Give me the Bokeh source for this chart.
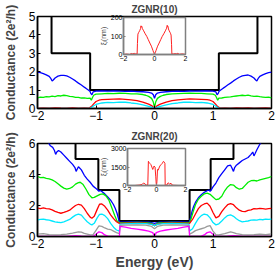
from bokeh.plotting import figure
from bokeh.models import FixedTicker
from bokeh.embed import file_html
from bokeh.resources import INLINE

# ---------------- ZGNR(10) ----------------
black10_E = [-2.0, -1.76, -1.76, -1.1, -1.1, 1.1, 1.1, 1.76, 1.76, 2.0]
black10_G = [7, 7, 3, 3, 1, 1, 3, 3, 7, 7]

blue10_E = [-2.0, -1.95, -1.9, -1.85, -1.8, -1.77, -1.75, -1.73, -1.7, -1.65, -1.6, -1.55, -1.5, -1.45,
            -1.4, -1.35, -1.3, -1.25, -1.2, -1.15, -1.12, -1.1, -1.09, -1.07, -1.05, -1.0, -0.9, -0.8,
            -0.7, -0.6, -0.5, -0.4, -0.3, -0.2, -0.1, -0.05, -0.02, 0.0, 0.02, 0.05, 0.1, 0.2, 0.3, 0.4,
            0.5, 0.6, 0.7, 0.8, 0.9, 1.0, 1.05, 1.07, 1.09, 1.1, 1.12, 1.15, 1.2, 1.25, 1.3, 1.35, 1.4,
            1.45, 1.5, 1.55, 1.6, 1.65, 1.7, 1.73, 1.75, 1.77, 1.8, 1.85, 1.9, 1.95, 2.0]
blue10_G = [1.98, 1.95, 1.9, 1.83, 1.75, 1.62, 1.5, 1.55, 1.66, 1.76, 1.8, 1.8, 1.77, 1.7,
            1.6, 1.5, 1.38, 1.28, 1.16, 1.05, 0.98, 0.92, 0.82, 0.75, 0.9, 0.94, 0.95, 0.94,
            0.95, 0.94, 0.93, 0.94, 0.92, 0.91, 0.88, 0.84, 0.75, 0.55, 0.75, 0.84, 0.88, 0.91, 0.93, 0.94,
            0.93, 0.95, 0.94, 0.95, 0.95, 0.94, 0.9, 0.75, 0.82, 0.92, 0.98, 1.05, 1.16, 1.28, 1.38, 1.5, 1.6,
            1.7, 1.77, 1.8, 1.82, 1.76, 1.66, 1.55, 1.5, 1.62, 1.75, 1.83, 1.9, 1.95, 1.98]

green10_E = [-2.0, -1.95, -1.9, -1.85, -1.8, -1.75, -1.7, -1.65, -1.6, -1.55, -1.5, -1.45, -1.4, -1.35,
             -1.3, -1.25, -1.2, -1.15, -1.1, -1.08, -1.06, -1.04, -1.0, -0.9, -0.8, -0.7, -0.6, -0.5,
             -0.4, -0.3, -0.2, -0.15, -0.1, -0.05, -0.02, 0.0, 0.02, 0.05, 0.1, 0.15, 0.2, 0.3, 0.4,
             0.5, 0.6, 0.7, 0.8, 0.9, 1.0, 1.04, 1.06, 1.08, 1.1, 1.15, 1.2, 1.25, 1.3, 1.35, 1.4,
             1.45, 1.5, 1.55, 1.6, 1.65, 1.7, 1.75, 1.8, 1.85, 1.9, 1.95, 2.0]
green10_G = [0.58, 0.62, 0.6, 0.64, 0.63, 0.67, 0.65, 0.7, 0.68, 0.72, 0.7, 0.66, 0.64, 0.6,
             0.61, 0.57, 0.58, 0.55, 0.56, 0.45, 0.6, 0.72, 0.78, 0.8, 0.82, 0.81, 0.83, 0.82,
             0.8, 0.79, 0.76, 0.72, 0.66, 0.55, 0.35, 0.05, 0.35, 0.55, 0.66, 0.72, 0.76, 0.8, 0.81,
             0.82, 0.83, 0.82, 0.82, 0.8, 0.78, 0.72, 0.6, 0.45, 0.56, 0.57, 0.6, 0.62, 0.63, 0.66, 0.68,
             0.7, 0.72, 0.7, 0.73, 0.69, 0.66, 0.67, 0.64, 0.62, 0.6, 0.62, 0.58]

red10_E = [-2.0, -1.9, -1.8, -1.7, -1.6, -1.5, -1.4, -1.3, -1.2, -1.12, -1.08, -1.04, -1.0, -0.95,
           -0.9, -0.8, -0.7, -0.6, -0.5, -0.4, -0.3, -0.2, -0.1, -0.05, 0.0, 0.05, 0.1, 0.2, 0.3,
           0.4, 0.5, 0.6, 0.7, 0.8, 0.9, 0.95, 1.0, 1.04, 1.08, 1.12, 1.2, 1.3, 1.4, 1.5, 1.6, 1.7,
           1.8, 1.9, 2.0]
red10_G = [0.02, 0.03, 0.02, 0.05, 0.03, 0.02, 0.04, 0.02, 0.03, 0.02, 0.1, 0.25, 0.38, 0.45,
           0.48, 0.5, 0.51, 0.52, 0.5, 0.47, 0.43, 0.35, 0.24, 0.16, 0.0, 0.16, 0.24, 0.35, 0.43,
           0.47, 0.5, 0.52, 0.51, 0.5, 0.48, 0.45, 0.38, 0.25, 0.1, 0.02, 0.03, 0.02, 0.04, 0.03, 0.05, 0.02,
           0.03, 0.04, 0.02]

cyan10_E = [-2.0, -1.5, -1.12, -1.08, -1.04, -1.0, -0.95, -0.9, -0.8, -0.7, -0.6, -0.5, -0.4, -0.3,
            -0.2, -0.1, -0.05, 0.0, 0.05, 0.1, 0.2, 0.3, 0.4, 0.5, 0.6, 0.7, 0.8, 0.9, 0.95, 1.0,
            1.04, 1.08, 1.12, 1.5, 2.0]
cyan10_G = [0.0, 0.01, 0.0, 0.05, 0.15, 0.22, 0.27, 0.3, 0.33, 0.32, 0.35, 0.34, 0.3, 0.27,
            0.2, 0.12, 0.07, 0.0, 0.07, 0.12, 0.2, 0.27, 0.3, 0.34, 0.35, 0.32, 0.33, 0.3, 0.27, 0.22,
            0.15, 0.05, 0.0, 0.01, 0.0]

# inset of ZGNR(10): localization length
xi10_E = [-2.0, -1.8, -1.6, -1.5, -1.4, -1.3, -1.2, -1.12, -1.1, -1.07, -1.03, -1.0, -0.95, -0.9,
          -0.87, -0.85, -0.82, -0.78, -0.7, -0.6, -0.5, -0.4, -0.3, -0.2, -0.1, -0.05, 0.0, 0.05,
          0.1, 0.2, 0.3, 0.4, 0.5, 0.6, 0.7, 0.78, 0.82, 0.85, 0.87, 0.9, 0.95, 1.0, 1.03, 1.07,
          1.1, 1.12, 1.2, 1.3, 1.4, 1.5, 1.6, 1.8, 2.0]
xi10_L = [0, 2, 0, 5, 3, 6, 2, 3, 60, 110, 118, 122, 130, 140,
          155, 148, 152, 140, 128, 112, 98, 80, 62, 45, 22, 10, 0, 10,
          22, 45, 62, 80, 98, 112, 128, 142, 158, 150, 152, 138, 128, 120, 115, 105,
          55, 3, 2, 5, 3, 6, 1, 3, 0]

# ---------------- ZGNR(20) ----------------
black20_E = [-2.0, -1.35, -1.35, -0.96, -0.96, -0.6, -0.6, 0.6, 0.6, 0.96, 0.96, 1.35, 1.35, 2.0]
black20_G = [7, 7, 5, 5, 3, 3, 1, 1, 3, 3, 5, 5, 7, 7]

blue20_E = [-1.82, -1.78, -1.74, -1.71, -1.69, -1.67, -1.64, -1.6, -1.55, -1.5, -1.45, -1.4, -1.36,
            -1.34, -1.32, -1.3, -1.25, -1.2, -1.15, -1.1, -1.05, -1.0, -0.97, -0.95, -0.93, -0.9,
            -0.85, -0.8, -0.75, -0.7, -0.67, -0.64, -0.62, -0.6, -0.55, -0.4, -0.2, -0.1, -0.05, 0.0,
            0.05, 0.1, 0.2, 0.4, 0.55, 0.6, 0.62, 0.64, 0.67, 0.7, 0.75, 0.8, 0.85, 0.9, 0.93, 0.95,
            0.97, 1.0, 1.05, 1.1, 1.15, 1.2, 1.25, 1.3, 1.32, 1.35, 1.37, 1.4, 1.45, 1.5, 1.55, 1.6,
            1.65, 1.68, 1.7, 1.72, 1.75, 1.8, 1.83]
blue20_G = [6.1, 5.85, 5.75, 5.55, 5.3, 5.45, 5.55, 5.45, 5.25, 5.05, 4.85, 4.65, 4.45,
            4.2, 4.35, 4.5, 4.3, 3.95, 3.7, 3.5, 3.25, 3.1, 3.0, 2.92, 2.97, 2.9,
            2.75, 2.55, 2.35, 2.05, 1.8, 1.5, 1.2, 0.95, 0.93, 0.94, 0.93, 0.92, 0.9, 0.85,
            0.9, 0.92, 0.93, 0.94, 0.93, 0.95, 1.25, 1.6, 1.95, 2.2, 2.5, 2.7, 2.85, 2.95, 3.0, 2.92,
            3.0, 3.2, 3.45, 3.8, 4.05, 4.3, 4.55, 4.6, 4.45, 4.2, 4.45, 4.6, 4.75, 4.9, 5.0, 5.1,
            5.3, 5.45, 5.2, 5.35, 5.6, 5.95, 6.1]

green20_E = [-2.0, -1.95, -1.9, -1.85, -1.8, -1.75, -1.7, -1.65, -1.6, -1.55, -1.5, -1.45, -1.4, -1.35,
             -1.3, -1.27, -1.22, -1.17, -1.12, -1.07, -1.03, -0.98, -0.93, -0.88, -0.83, -0.78, -0.73,
             -0.68, -0.64, -0.6, -0.5, -0.3, -0.15, -0.05, -0.02, 0.0, 0.02, 0.05, 0.15, 0.3, 0.5, 0.6,
             0.63, 0.66, 0.7, 0.75, 0.8, 0.85, 0.9, 0.95, 1.0, 1.05, 1.1, 1.15, 1.2, 1.25, 1.3, 1.35,
             1.4, 1.45, 1.5, 1.55, 1.6, 1.65, 1.7, 1.75, 1.8, 1.85, 1.9, 1.95, 2.0]
green20_G = [3.87, 3.8, 3.82, 3.75, 3.72, 3.65, 3.55, 3.4, 3.25, 3.12, 3.05, 3.1, 3.2, 3.38,
             3.48, 3.5, 3.35, 3.05, 2.7, 2.5, 2.52, 2.62, 2.72, 2.75, 2.62, 2.35, 1.85,
             1.35, 1.0, 0.88, 0.9, 0.91, 0.9, 0.85, 0.75, 0.7, 0.75, 0.86, 0.9, 0.91, 0.9, 0.9,
             1.2, 1.6, 2.05, 2.4, 2.6, 2.75, 2.8, 2.72, 2.55, 2.38, 2.42, 2.6, 2.95, 3.2, 3.35, 3.32,
             3.15, 3.05, 3.1, 3.3, 3.5, 3.6, 3.62, 3.58, 3.65, 3.7, 3.75, 3.8, 3.87]

red20_E = [-2.0, -1.95, -1.9, -1.85, -1.8, -1.75, -1.7, -1.65, -1.6, -1.55, -1.5, -1.45, -1.4, -1.35,
           -1.3, -1.25, -1.2, -1.15, -1.1, -1.07, -1.03, -0.98, -0.94, -0.9, -0.85, -0.8, -0.75,
           -0.7, -0.65, -0.6, -0.5, -0.3, -0.15, -0.05, 0.0, 0.05, 0.15, 0.3, 0.5, 0.6, 0.65, 0.7,
           0.75, 0.8, 0.85, 0.9, 0.95, 1.0, 1.05, 1.1, 1.15, 1.2, 1.25, 1.3, 1.35, 1.4, 1.45, 1.5,
           1.55, 1.6, 1.65, 1.7, 1.75, 1.8, 1.85, 1.9, 1.95, 2.0]
red20_G = [1.83, 1.8, 1.85, 1.8, 1.78, 1.72, 1.62, 1.55, 1.5, 1.55, 1.62, 1.7, 1.85, 2.0,
           2.08, 2.02, 1.8, 1.5, 1.25, 1.18, 1.3, 1.75, 2.08, 2.1, 1.95, 1.7, 1.4,
           1.15, 0.95, 0.85, 0.86, 0.87, 0.86, 0.8, 0.7, 0.8, 0.86, 0.87, 0.86, 0.85, 1.1, 1.45,
           1.8, 2.0, 2.1, 2.15, 1.95, 1.55, 1.2, 1.3, 1.6, 1.85, 2.05, 2.12, 2.05, 1.85, 1.7, 1.62,
           1.6, 1.68, 1.72, 1.8, 1.78, 1.82, 1.8, 1.77, 1.8, 1.82]

cyan20_E = [-2.0, -1.95, -1.9, -1.85, -1.8, -1.75, -1.7, -1.65, -1.6, -1.55, -1.5, -1.45, -1.4, -1.35,
            -1.3, -1.25, -1.2, -1.15, -1.1, -1.07, -1.03, -0.98, -0.94, -0.9, -0.85, -0.8, -0.75,
            -0.7, -0.65, -0.6, -0.59, -0.5, -0.3, -0.15, -0.05, 0.0, 0.05, 0.15, 0.3, 0.5, 0.59, 0.6,
            0.65, 0.7, 0.75, 0.8, 0.85, 0.9, 0.95, 1.0, 1.05, 1.1, 1.15, 1.2, 1.25, 1.3, 1.35, 1.4,
            1.45, 1.5, 1.55, 1.6, 1.65, 1.7, 1.75, 1.8, 1.85, 1.9, 1.95, 2.0]
cyan20_G = [1.07, 1.1, 1.12, 1.08, 1.05, 1.0, 0.95, 0.92, 0.9, 0.95, 1.02, 1.1, 1.25, 1.38,
            1.45, 1.38, 1.15, 0.95, 0.8, 0.75, 0.85, 1.2, 1.42, 1.45, 1.35, 1.15, 0.85,
            0.6, 0.42, 0.35, 0.8, 0.82, 0.84, 0.83, 0.78, 0.7, 0.78, 0.83, 0.84, 0.82, 0.8, 0.35,
            0.5, 0.85, 1.15, 1.35, 1.45, 1.4, 1.2, 0.9, 0.75, 0.82, 1.0, 1.2, 1.35, 1.4, 1.3, 1.15,
            1.02, 0.95, 0.97, 1.0, 1.05, 1.07, 1.05, 1.1, 1.08, 1.12, 1.1, 1.12]

gray20_E = [-2.0, -1.9, -1.8, -1.7, -1.6, -1.5, -1.4, -1.3, -1.25, -1.2, -1.1, -1.05, -1.0, -0.95,
            -0.9, -0.85, -0.8, -0.75, -0.7, -0.65, -0.6, -0.59, -0.5, -0.3, -0.15, -0.05, 0.0, 0.05,
            0.15, 0.3, 0.5, 0.59, 0.6, 0.65, 0.7, 0.75, 0.8, 0.85, 0.9, 0.95, 1.0, 1.05, 1.1, 1.2,
            1.3, 1.35, 1.4, 1.5, 1.6, 1.7, 1.8, 1.9, 2.0]
gray20_G = [0.15, 0.18, 0.12, 0.1, 0.12, 0.15, 0.22, 0.3, 0.28, 0.2, 0.1, 0.12, 0.4, 0.68,
            0.65, 0.55, 0.48, 0.45, 0.35, 0.25, 0.18, 0.72, 0.74, 0.75, 0.74, 0.65, 0.5, 0.65,
            0.74, 0.75, 0.74, 0.72, 0.15, 0.25, 0.38, 0.45, 0.5, 0.55, 0.65, 0.7, 0.35, 0.12, 0.1, 0.18,
            0.3, 0.25, 0.18, 0.12, 0.1, 0.12, 0.15, 0.12, 0.16]

magenta20_E = [-2.0, -1.5, -1.35, -1.25, -1.05, -1.0, -0.95, -0.9, -0.85, -0.8, -0.6, -0.59, -0.5,
               -0.4, -0.3, -0.2, -0.1, -0.03, 0.0, 0.03, 0.1, 0.2, 0.3, 0.4, 0.5, 0.59, 0.6, 0.8,
               0.85, 0.9, 0.95, 1.0, 1.05, 1.25, 1.35, 1.5, 2.0]
magenta20_G = [0.0, 0.01, 0.05, 0.02, 0.0, 0.15, 0.3, 0.25, 0.1, 0.02, 0.0, 0.65, 0.6,
               0.52, 0.47, 0.42, 0.35, 0.25, 0.0, 0.25, 0.35, 0.42, 0.47, 0.52, 0.6, 0.65, 0.0, 0.02,
               0.1, 0.25, 0.3, 0.15, 0.0, 0.02, 0.05, 0.01, 0.0]

# inset of ZGNR(20)
xi20_E = [-2.0, -1.5, -1.2, -1.0, -0.9, -0.8, -0.7, -0.6, -0.56, -0.5, -0.45, -0.39, -0.32, -0.26,
          -0.21, -0.17, -0.1, -0.05, -0.02, 0.0, 0.03, 0.07, 0.12, 0.2, 0.27, 0.33, 0.4, 0.48,
          0.53, 0.58, 0.6, 0.7, 0.8, 0.9, 1.0, 1.1, 1.5, 2.0]
xi20_L = [0, 0, 30, 80, 200, 150, 20, 60, 1960, 1850, 1780, 1700, 1500, 1300,
          1450, 1580, 1500, 700, 150, 0, 300, 1300, 1250, 1500, 1650, 1700, 1800, 1960,
          1900, 1800, 0, 30, 220, 120, 180, 20, 0, 0]

COLORS = {"black": "#000000", "blue": "#0000ff", "green": "#00ee00", "red": "#ff0000",
          "cyan": "#00e8ff", "gray": "#9a9a9a", "magenta": "#ff00ff"}

FONT = "Liberation Sans"


def main_fig(height, ymax, yticks, title, xlabel, top, bottom, pos_top):
    p = figure(width=278, height=height, x_range=(-2, 2), y_range=(0, ymax),
               toolbar_location=None, output_backend="svg",
               min_border_left=35, min_border_right=7, min_border_top=top,
               min_border_bottom=bottom)
    p.styles = {"position": "absolute", "left": "0px", "top": f"{pos_top}px", "z-index": "1"}
    p.title.text = title
    p.title.align = "center"
    p.title.text_font = FONT
    p.title.text_font_size = "10px"
    p.title.text_font_style = "bold"
    p.title.standoff = 3
    p.title.offset = 0
    p.xgrid.visible = False
    p.ygrid.visible = False
    p.outline_line_color = "black"
    p.outline_line_width = 1.5
    p.xaxis.ticker = FixedTicker(ticks=[-2, -1, 0, 1, 2])
    p.yaxis.ticker = FixedTicker(ticks=yticks)
    for ax in (p.xaxis[0], p.yaxis[0]):
        ax.major_tick_in = 3
        ax.major_tick_out = 0
        ax.minor_tick_line_color = None
        ax.axis_line_width = 1.5
        ax.major_label_text_font = FONT
        ax.major_label_text_font_size = "12px"
        ax.major_label_text_color = "black"
        ax.major_label_standoff = 2
        ax.axis_label_text_font = FONT
        ax.axis_label_text_font_style = "bold"
    p.yaxis.axis_label = "Conductance (2e²/h)"
    p.yaxis.axis_label_text_font_size = "12px"
    p.yaxis.axis_label_standoff = 8
    if xlabel:
        p.xaxis.axis_label = xlabel
        p.xaxis.axis_label_text_font_size = "14px"
        p.xaxis.axis_label_standoff = 3
    return p


def inset_fig(ymax, yticks, pos_top):
    q = figure(width=92, height=51, x_range=(-2, 2), y_range=(0, ymax),
               toolbar_location=None, output_backend="svg",
               min_border_left=27, min_border_right=3, min_border_top=3, min_border_bottom=11)
    q.styles = {"position": "absolute", "left": "96px", "top": f"{pos_top}px", "z-index": "5"}
    q.xgrid.visible = False
    q.ygrid.visible = False
    q.outline_line_color = "#808080"
    q.outline_line_width = 1.5
    q.border_fill_alpha = 0
    q.background_fill_color = "white"
    q.xaxis.ticker = FixedTicker(ticks=[-2, 0, 2])
    q.yaxis.ticker = FixedTicker(ticks=yticks)
    for ax in (q.xaxis[0], q.yaxis[0]):
        ax.major_tick_in = 2
        ax.major_tick_out = 0
        ax.minor_tick_line_color = None
        ax.axis_line_color = "#808080"
        ax.axis_line_width = 1.5
        ax.major_tick_line_color = "#808080"
        ax.major_label_text_font = FONT
        ax.major_label_text_font_size = "7px"
        ax.major_label_text_color = "black"
        ax.major_label_standoff = 1
    q.yaxis.axis_label = "ξₗ(nm)"
    q.yaxis.axis_label_text_font = FONT
    q.yaxis.axis_label_text_font_size = "7px"
    q.yaxis.axis_label_text_font_style = "normal"
    q.yaxis.axis_label_standoff = 1
    return q


p1 = main_fig(122, 5, [0, 1, 2, 3, 4, 5], "ZGNR(10)", None, 13, 14, 0)
p1.line(black10_E, black10_G, color=COLORS["black"], line_width=2)
p1.line(blue10_E, blue10_G, color=COLORS["blue"], line_width=1.3)
p1.line(green10_E, green10_G, color=COLORS["green"], line_width=1.3)
p1.line(red10_E, red10_G, color=COLORS["red"], line_width=1.3)
p1.line(cyan10_E, cyan10_G, color=COLORS["cyan"], line_width=1.3)

p2 = main_fig(150, 6, [0, 2, 4, 6], "ZGNR(20)", "Energy (eV)", 21, 34, 122)
p2.line(black20_E, black20_G, color=COLORS["black"], line_width=2)
p2.line(blue20_E, blue20_G, color=COLORS["blue"], line_width=1.3)
p2.line(green20_E, green20_G, color=COLORS["green"], line_width=1.3)
p2.line(red20_E, red20_G, color=COLORS["red"], line_width=1.3)
p2.line(cyan20_E, cyan20_G, color=COLORS["cyan"], line_width=1.3)
p2.line(gray20_E, gray20_G, color=COLORS["gray"], line_width=1.3)
p2.line(magenta20_E, magenta20_G, color=COLORS["magenta"], line_width=1.3)

q1 = inset_fig(200, [0, 100, 200], 14)
q1.line(xi10_E, xi10_L, color="#ff2020", line_width=1)

q2 = inset_fig(3000, [0, 1500, 3000], 145)
q2.line(xi20_E, xi20_L, color="#ff2020", line_width=1)

open("out.html", "w").write(file_html([p1, p2, q1, q2], INLINE))
